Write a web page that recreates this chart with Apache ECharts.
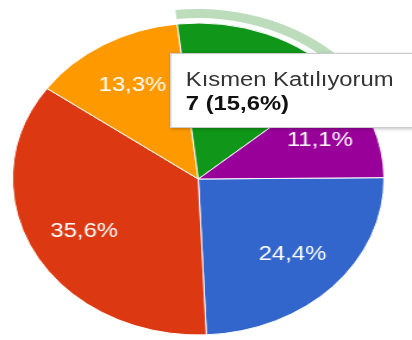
<!DOCTYPE html>
<html>
<head>
<meta charset="utf-8">
<script src="https://cdn.jsdelivr.net/npm/echarts@6/dist/echarts.min.js"></script>
<style>
  html, body { margin: 0; padding: 0; background: #fff; overflow: hidden; width: 412px; height: 340px; }
  /* the chart is laid out as a circle and stretched wide, as the screenshot it comes from was */
  #chart { width: 346px; height: 340px; transform: scaleX(1.1908); transform-origin: 0 0; }
</style>
</head>
<body>
<div id="chart"></div>
<script>
// answer options, in survey order
const categories = ['Katılıyorum', 'Kesinlikle Katılıyorum', 'Katılmıyorum', 'Kısmen Katılıyorum', 'Kesinlikle Katılmıyorum'];
// number of answers for each option
const counts = [11, 16, 6, 7, 5];
// slice colours
const colors = ['#3366cc', '#dc3912', '#ff9900', '#109618', '#990099'];
// option whose tooltip is shown
const activeIndex = 3;

const total = counts.reduce((a, b) => a + b, 0);
const pct = v => (v / total * 100).toFixed(1).replace('.', ',') + '%';

const center = [166.5, 179];
const R = 156;
const startAngle = 0.5;
const font = '"Liberation Sans", Arial, sans-serif';
const cssFont = font.replace(/"/g, "'");

const chart = echarts.init(document.getElementById('chart'), null, { renderer: 'canvas' });

chart.setOption({
  animation: false,
  tooltip: {
    trigger: 'item',
    alwaysShowContent: true,
    transitionDuration: 0,
    position: [143, 53],
    backgroundColor: '#ffffff',
    borderColor: '#cccccc',
    borderWidth: 1,
    borderRadius: 0,
    padding: [13, 30, 12, 12],
    extraCssText: 'box-shadow: 1px 1px 3px rgba(0,0,0,0.25);',
    formatter: p =>
      '<div style="font-family:' + cssFont + ';font-size:20px;line-height:24px;color:#333">' + p.name + '</div>' +
      '<div style="font-family:' + cssFont + ';font-size:20px;line-height:24px;color:#111;font-weight:bold">' +
      p.value + ' (' + pct(p.value) + ')</div>'
  },
  series: [
    {
      // the pie itself
      type: 'pie',
      center: center,
      radius: [0, R],
      startAngle: startAngle,
      clockwise: true,
      label: { show: false },
      labelLine: { show: false },
      emphasis: { disabled: true },
      itemStyle: { borderColor: '#ffffff', borderWidth: 1 },
      data: categories.map((name, i) => ({ name, value: counts[i], itemStyle: { color: colors[i] } }))
    },
    {
      // percentage labels, placed two thirds of the way out
      type: 'pie',
      center: center,
      radius: [56, R],
      startAngle: startAngle,
      clockwise: true,
      silent: true,
      tooltip: { show: false },
      emphasis: { disabled: true },
      itemStyle: { color: 'transparent', borderWidth: 0 },
      label: {
        show: true,
        position: 'inside',
        color: '#ffffff',
        fontFamily: font,
        fontSize: 20,
        formatter: p => pct(p.value)
      },
      labelLine: { show: false },
      data: categories.map((name, i) => ({ name, value: counts[i] }))
    },
    {
      // hover ring around the active slice
      type: 'pie',
      center: center,
      radius: [161, 170],
      startAngle: startAngle,
      clockwise: true,
      silent: true,
      tooltip: { show: false },
      emphasis: { disabled: true },
      label: { show: false },
      labelLine: { show: false },
      data: categories.map((name, i) => ({
        name,
        value: counts[i],
        itemStyle: { color: i === activeIndex ? '#bcdcbc' : 'transparent', borderWidth: 0 }
      }))
    }
  ]
});

chart.dispatchAction({ type: 'showTip', seriesIndex: 0, dataIndex: activeIndex });
</script>
</body>
</html>
